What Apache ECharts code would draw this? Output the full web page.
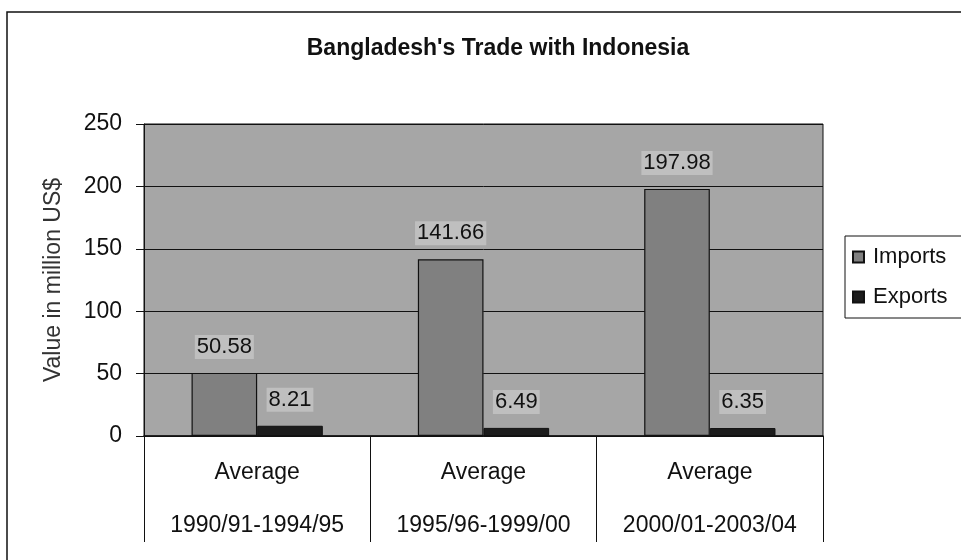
<!DOCTYPE html>
<html>
<head>
<meta charset="utf-8">
<script src="https://cdn.jsdelivr.net/npm/echarts@6/dist/echarts.min.js"></script>
<style>
  html, body { margin: 0; padding: 0; background: #fff; }
  #chart { width: 961px; height: 560px; }
</style>
</head>
<body>
<div id="chart"></div>
<script>
// values
var periods = ['1990/91-1994/95', '1995/96-1999/00', '2000/01-2003/04'];
var imports = [50.58, 141.66, 197.98];
var exports = [8.21, 6.49, 6.35];
var yTicks = [0, 250, 50]; // min, max, step

var font = "'Liberation Sans', Arial, sans-serif";
var myChart = echarts.init(document.getElementById('chart'));

var valueLabel = {
    show: true,
    position: 'top',
    distance: 14,
    color: '#111',
    fontFamily: font,
    fontSize: 22,
    backgroundColor: 'rgba(215,215,215,0.5)',
    padding: [1, 2]
};

myChart.setOption({
    backgroundColor: '#fff',
    animation: false,
    title: {
        text: "Bangladesh's Trade with Indonesia",
        left: 493,
        textAlign: 'center',
        top: 32,
        textStyle: { fontFamily: font, fontSize: 23, fontWeight: 'bold', color: '#111' }
    },
    legend: {
        orient: 'vertical',
        left: 845,
        top: 236,
        padding: [10, 30, 10, 7],
        itemGap: 18,
        itemWidth: 11,
        itemHeight: 11,
        borderColor: '#111',
        borderWidth: 1,
        textStyle: { fontFamily: font, fontSize: 22, color: '#111', padding: [0, 0, 0, 4] },
        data: [
            { name: 'Imports', icon: 'rect' },
            { name: 'Exports', icon: 'rect' }
        ]
    },
    grid: {
        left: 144,
        right: 138,
        top: 124,
        bottom: 124,
        show: true,
        backgroundColor: '#a6a6a6',
        borderColor: '#111',
        borderWidth: 1
    },
    xAxis: {
        type: 'category',
        data: periods,
        axisLine: { lineStyle: { color: '#111', width: 1.5 } },
        axisTick: { show: true, length: 106, lineStyle: { color: '#111' } },
        axisLabel: {
            margin: 10,
            interval: 0,
            color: '#111',
            fontFamily: font,
            fontSize: 23,
            lineHeight: 53,
            formatter: function (v) { return 'Average\n' + v; }
        }
    },
    yAxis: {
        type: 'value',
        min: yTicks[0],
        max: yTicks[1],
        interval: yTicks[2],
        name: 'Value in million US$',
        nameLocation: 'middle',
        nameRotate: 90,
        nameGap: 79,
        nameTextStyle: { fontFamily: font, fontSize: 23, color: '#333' },
        axisLine: { show: true, lineStyle: { color: '#111' } },
        axisTick: { show: true, inside: false, length: 8, lineStyle: { color: '#111' } },
        axisLabel: { margin: 22, color: '#111', fontFamily: font, fontSize: 23 },
        splitLine: { show: true, lineStyle: { color: '#111', width: 1 } }
    },
    series: [
        {
            name: 'Imports',
            type: 'bar',
            data: imports,
            barGap: '0%',
            barCategoryGap: '42%',
            itemStyle: { color: '#808080', borderColor: '#111', borderWidth: 1.2 },
            label: valueLabel
        },
        {
            name: 'Exports',
            type: 'bar',
            data: exports,
            itemStyle: { color: '#1c1c1c', borderColor: '#111', borderWidth: 1 },
            label: valueLabel
        }
    ],
    graphic: [
        {
            type: 'rect',
            shape: { x: 7, y: 12, width: 1000, height: 600 },
            style: { fill: 'none', stroke: '#111', lineWidth: 1.5 },
            silent: true,
            z: -1
        }
    ]
});
</script>
</body>
</html>
